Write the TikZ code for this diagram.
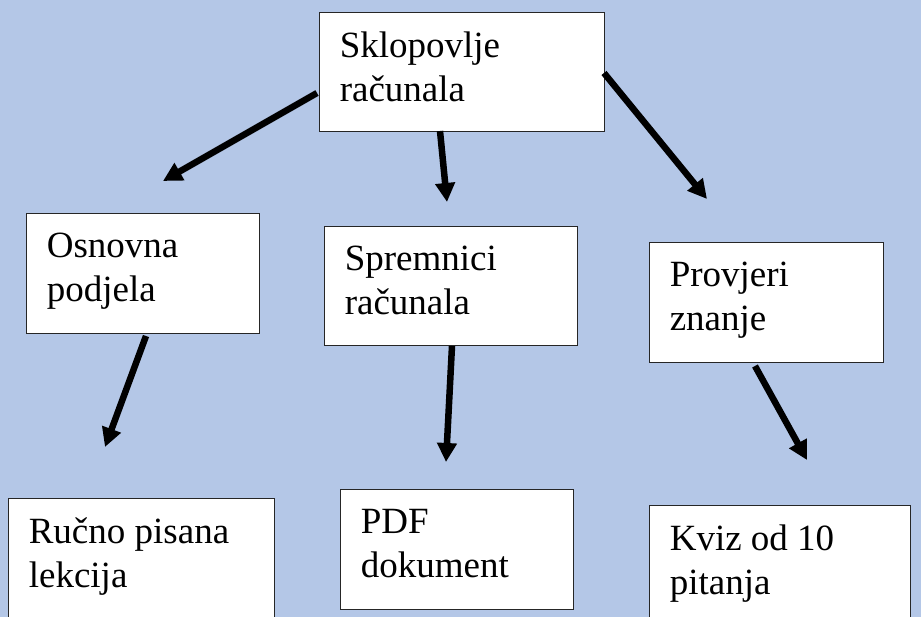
\documentclass[tikz,border=0pt]{standalone}
\usepackage{fontspec}
\setmainfont{Liberation Serif}
\usetikzlibrary{arrows.meta}

\definecolor{bgblue}{RGB}{180,199,231}

\begin{document}
\begin{tikzpicture}[
  x=1pt, y=-1pt,
  box/.style={draw=black!85, line width=0.8pt, fill=white, rectangle, inner sep=0pt},
  txt/.style={anchor=north west, inner sep=0pt, xshift=21pt, yshift=-20pt,
    align=left, font=\fontsize{37pt}{44pt}\selectfont},
  arr/.style={-{Triangle[length=19pt,width=19pt]}, line width=6.5pt}
]

% Background and frame
\fill[bgblue] (0,0) rectangle (921,617);
\useasboundingbox (0,0) rectangle (921,617);
\clip (0,0) rectangle (921,617);

% Boxes (top)
\node[box, minimum width=285pt, minimum height=119pt,
  label={[txt]north west:Sklopovlje\\računala}] (sklop) at (461.5,71.5) {};

% Boxes (middle row)
\node[box, minimum width=233pt, minimum height=120pt,
  label={[txt]north west:Osnovna\\podjela}] (osnovna) at (142.5,273) {};
\node[box, minimum width=253pt, minimum height=119pt,
  label={[txt]north west:Spremnici\\računala}] (spremnici) at (450.5,285.5) {};
\node[box, minimum width=234pt, minimum height=120pt,
  label={[txt]north west:Provjeri\\znanje}] (provjeri) at (766,302) {};

% Boxes (bottom row)
\node[box, minimum width=266pt, minimum height=120pt,
  label={[txt]north west:Ručno pisana\\lekcija}] (rucno) at (141,558) {};
\node[box, minimum width=233pt, minimum height=120pt,
  label={[txt]north west:PDF\\dokument}] (pdf) at (456.5,549) {};
\node[box, minimum width=261pt, minimum height=120pt,
  label={[txt]north west:Kviz od 10\\pitanja}] (kviz) at (779.5,565) {};

% Arrow ends (the arrows stop short of the boxes)
\coordinate (s1) at (317,93);   \coordinate (e1) at (163,181);
\coordinate (s2) at (440,131);  \coordinate (e2) at (447,202);
\coordinate (s3) at (604,73);   \coordinate (e3) at (707,199);
\coordinate (s4) at (146,336);  \coordinate (e4) at (105,447);
\coordinate (s5) at (452,346);  \coordinate (e5) at (446,462);
\coordinate (s6) at (755,366);  \coordinate (e6) at (807,460);

% Arrows
\draw[arr] (s1) -- (e1);
\draw[arr] (s2) -- (e2);
\draw[arr] (s3) -- (e3);
\draw[arr] (s4) -- (e4);
\draw[arr] (s5) -- (e5);
\draw[arr] (s6) -- (e6);

\end{tikzpicture}
\end{document}
